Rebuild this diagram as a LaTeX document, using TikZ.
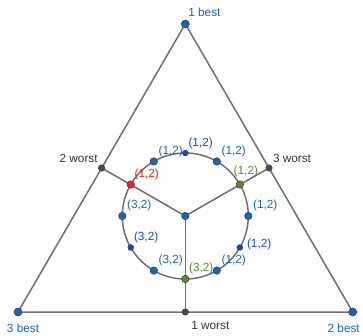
\documentclass[tikz,border=0pt]{standalone}
\usepackage{fontspec}
\setmainfont{Liberation Sans}
\usetikzlibrary{calc}
\definecolor{gline}{HTML}{6E6E6E}
\definecolor{ptblue}{HTML}{1565C0}
\definecolor{ptdark}{HTML}{1846CC}
\definecolor{ptred}{HTML}{FF1A1A}
\definecolor{ptgreen}{HTML}{5B8C23}
\definecolor{lblgreen}{HTML}{558B2F}
\definecolor{ptgray}{HTML}{4A4A4A}
\definecolor{txtgray}{HTML}{333333}
\begin{document}
\begin{tikzpicture}[x=1pt,y=-1pt,
  edge/.style={draw=gline,line width=1.5pt},
  dotbase/.style={circle,inner sep=0pt,draw=black!75,line width=0.6pt},
  bdot/.style={dotbase,fill=ptblue,minimum size=7.4pt},
  ddot/.style={dotbase,fill=ptdark,minimum size=5.8pt},
  rdot/.style={dotbase,fill=ptred,minimum size=7.4pt},
  gdot/.style={dotbase,fill=ptgreen,minimum size=7.4pt},
  mdot/.style={dotbase,fill=ptgray,minimum size=6.4pt},
  vdot/.style={dotbase,fill=ptblue,minimum size=8pt},
  lab/.style={font=\fontsize{11.8}{13}\selectfont,inner sep=0.8pt},
  lblue/.style={lab,text=ptblue},
  ldark/.style={lab,text=ptdark},
  lred/.style={lab,text=ptred},
  lgreen/.style={lab,text=lblgreen},
  lgray/.style={lab,text=txtgray},
]
\useasboundingbox (0,0) rectangle (363,336);
% triangle vertices and side midpoints
\coordinate (A) at (185.3,24);
\coordinate (B) at (18,312);
\coordinate (C) at (352.7,312);
\coordinate (O) at (185.3,216);
\coordinate (M1) at (185.3,312);
\coordinate (M2) at (101.65,168);
\coordinate (M3) at (269,168);
% triangle and spokes
\draw[edge] (A) -- (B) -- (C) -- cycle;
\draw[edge] (O) -- (M1);
\draw[edge] (O) -- (M2);
\draw[edge] (O) -- (M3);
\draw[edge] (O) circle[radius=63];
% vertex points
\node[vdot] (vA) at (A) {};
\node[vdot] (vB) at (B) {};
\node[vdot] (vC) at (C) {};
\node[lblue,anchor=south west] (tA) at ([shift={(2,-6)}]A) {1 best};
\node[lblue,anchor=north] (tB) at ([shift={(5,11)}]B) {3 best};
\node[lblue,anchor=north] (tC) at ([shift={(-9,11)}]C) {2 best};
% midpoints
\node[mdot] (m1) at (M1) {};
\node[mdot] (m2) at (M2) {};
\node[mdot] (m3) at (M3) {};
\node[lgray,anchor=north west] (t1) at ([shift={(5,8)}]M1) {1 worst};
\node[lgray,anchor=south east] (t2) at ([shift={(-3,-4)}]M2) {2 worst};
\node[lgray,anchor=south west] (t3) at ([shift={(3,-4)}]M3) {3 worst};
% centre
\node[bdot] (c) at (O) {};
% points on the circle
\node[bdot] (p0)   at ($(O)+(0:63)$) {};
\node[gdot] (p30)  at ($(O)+(-30:63)$) {};
\node[bdot] (p60)  at ($(O)+(-60:63)$) {};
\node[ddot] (p90)  at ($(O)+(-90:63)$) {};
\node[bdot] (p120) at ($(O)+(-120:63)$) {};
\node[rdot] (p150) at ($(O)+(-150:63)$) {};
\node[bdot] (p180) at ($(O)+(-180:63)$) {};
\node[ddot] (p210) at ($(O)+(-210:63)$) {};
\node[bdot] (p240) at ($(O)+(-240:63)$) {};
\node[gdot] (p270) at ($(O)+(-270:63)$) {};
\node[bdot] (p300) at ($(O)+(-300:63)$) {};
\node[ddot] (p330) at ($(O)+(-330:63)$) {};
% labels of circle points
\node[lblue,anchor=south west]  at ([shift={(1,-1)}]p0.north east) {(1,2)};
\node[lgreen,anchor=south]      at ([shift={(6,-3)}]p30.north) {(1,2)};
\node[lblue,anchor=south west]  at ([shift={(1,-1)}]p60.north east) {(1,2)};
\node[ldark,anchor=south west]  at ([shift={(0,-1)}]p90.north east) {(1,2)};
\node[lblue,anchor=south west]  at ([shift={(1,-1)}]p120.north east) {(1,2)};
\node[lred,anchor=south west]   at ([shift={(0,-1)}]p150.north east) {(1,2)};
\node[lblue,anchor=south west]  at ([shift={(1,-1)}]p180.north east) {(3,2)};
\node[ldark,anchor=south west]  at ([shift={(0,-1)}]p210.north east) {(3,2)};
\node[lblue,anchor=south west]  at ([shift={(1,-1)}]p240.north east) {(3,2)};
\node[lgreen,anchor=south west] at ([shift={(0,-1)}]p270.north east) {(3,2)};
\node[lblue,anchor=south west]  at ([shift={(1,-1)}]p300.north east) {(1,2)};
\node[ldark,anchor=west]        at ([shift={(3,-3)}]p330.east) {(1,2)};
\end{tikzpicture}
\end{document}
